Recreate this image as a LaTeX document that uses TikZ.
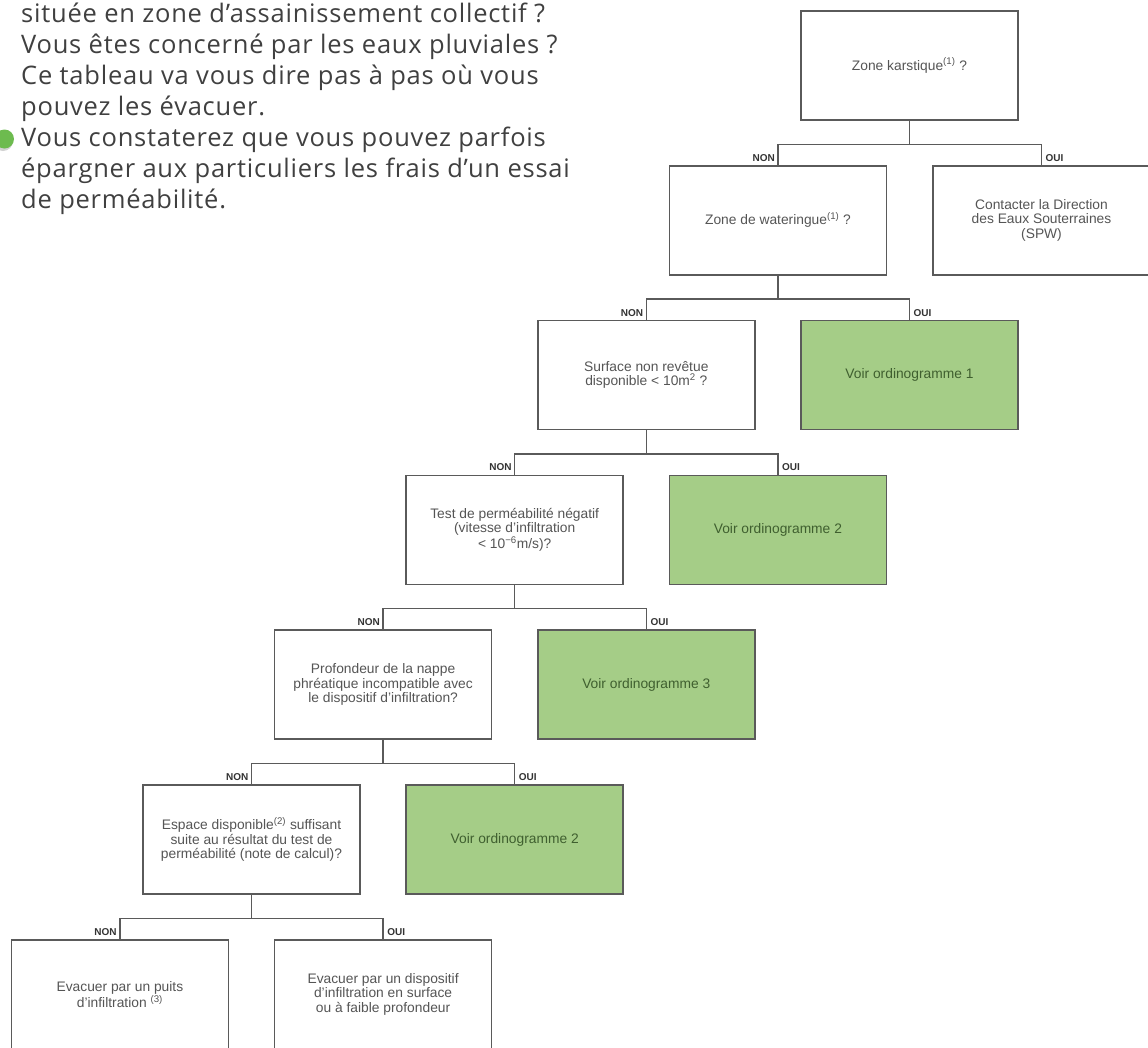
\documentclass[tikz,border=0pt]{standalone}
\usepackage{fontspec}
\setmainfont{Liberation Sans}
\newfontfamily\introfont[LetterSpace=3]{Open Sans}
\definecolor{boxline}{HTML}{5A5A5A}
\definecolor{boxtext}{HTML}{555555}
\definecolor{greenfill}{HTML}{A5CD87}
\definecolor{greentext}{HTML}{3F5F2F}
\definecolor{lbltext}{HTML}{333333}
\definecolor{introtext}{HTML}{404040}
\definecolor{bulletgreen}{HTML}{6DBB4F}
\begin{document}
\begin{tikzpicture}[x=1pt,y=-1pt,
  qbox/.style={draw=boxline, line width=1.5pt, fill=white, minimum width=217pt,
    minimum height=109pt, inner sep=0pt, align=center,
    font=\fontsize{13.8}{14.5}\selectfont, text=boxtext},
  gbox/.style={qbox, fill=greenfill, text=greentext},
  lbl/.style={font=\fontsize{10}{10}\selectfont\bfseries, text=lbltext, inner sep=0pt},
  conn/.style={draw=boxline, line width=1.5pt},
  intro/.style={anchor=base west, inner sep=0pt,
    font=\introfont\fontsize{25.5}{30}\selectfont, text=introtext}]
\clip (0,0) rectangle (1148,1047);
\fill[white] (0,0) rectangle (1148,1047);

% intro text
\node[intro] (t1) at (21,22.5) {située en zone d’assainissement collectif ?};
\node[intro] (t2) at (21,53.5) {Vous êtes concerné par les eaux pluviales ?};
\node[intro] (t3) at (21,84.5) {Ce tableau va vous dire pas à pas où vous};
\node[intro] (t4) at (21,115.5) {pouvez les évacuer.};
\node[intro] (t5) at (21,146.5) {Vous constaterez que vous pouvez parfois};
\node[intro] (t6) at (21,177.5) {épargner aux particuliers les frais d’un essai};
\node[intro] (t7) at (21,208.5) {de perméabilité.};
\fill[gray!35] (3,141) circle (10);
\node[circle, fill=bulletgreen, minimum size=19pt, inner sep=0pt] (bullet) at (4.5,139) {};

% boxes
\node[qbox] (b1) at (909.5,65.5) {Zone karstique\textsuperscript{(1)} ?};
\node[qbox] (b2) at (778,220.3) {Zone de wateringue\textsuperscript{(1)} ?};
\node[qbox] (s1) at (1041.5,220.3) {Contacter la Direction\\des Eaux Souterraines\\(SPW)};
\node[qbox] (b3) at (646.3,375.1) {Surface non revêtue\\disponible < 10m\textsuperscript{2} ?};
\node[gbox] (g1) at (909.5,375.1) {Voir ordinogramme 1};
\node[qbox] (b4) at (514.7,529.9) {Test de perméabilité négatif\\(vitesse d’infiltration\\< 10\textsuperscript{−6}m/s)?};
\node[gbox] (g2) at (777.9,529.9) {Voir ordinogramme 2};
\node[qbox] (b5) at (383.1,684.7) {Profondeur de la nappe\\phréatique incompatible avec\\le dispositif d’infiltration?};
\node[gbox] (g3) at (646.3,684.7) {Voir ordinogramme 3};
\node[qbox] (b6) at (251.5,839.5) {Espace disponible\textsuperscript{(2)} suffisant\\suite au résultat du test de\\perméabilité (note de calcul)?};
\node[gbox] (g4) at (514.7,839.5) {Voir ordinogramme 2};
\node[qbox] (b7) at (119.9,994.3) {Evacuer par un puits\\d’infiltration \textsuperscript{(3)}};
\node[qbox] (b8) at (383.1,994.3) {Evacuer par un dispositif\\d’infiltration en surface\\ou à faible profondeur};

% connectors
\foreach \p/\n/\o [count=\i] in {b1/b2/s1, b2/b3/g1, b3/b4/g2, b4/b5/g3, b5/b6/g4, b6/b7/b8}{
  \coordinate (j\i) at ([yshift=-23.5pt]\p.south);
  \draw[conn] (\p.south) -- (j\i);
  \draw[conn] (\n.north) |- (j\i) -| (\o.north);
  \node[lbl, anchor=south east] (non\i) at ([xshift=-3pt,yshift=3.5pt]\n.north) {NON};
  \node[lbl, anchor=south west] (oui\i) at ([xshift=4pt,yshift=3.5pt]\o.north) {OUI};
}
\end{tikzpicture}
\end{document}
